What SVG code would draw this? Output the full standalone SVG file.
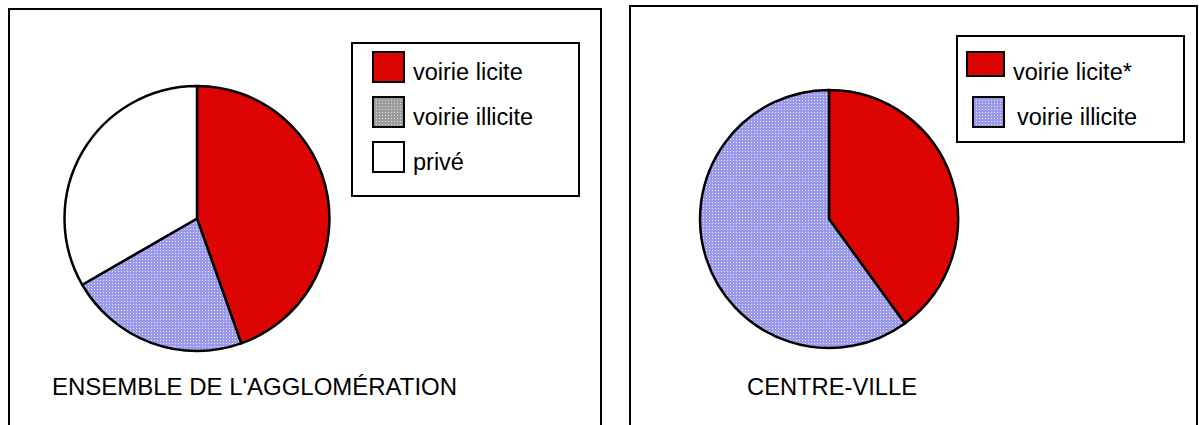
<svg xmlns="http://www.w3.org/2000/svg" width="1199" height="425" viewBox="0 0 1199 425">
<defs>
<pattern id="blueDots" width="3" height="3" patternUnits="userSpaceOnUse">
<rect width="3" height="3" fill="#9a9ae8"/>
<rect x="1" y="1" width="1" height="1" fill="#e4e4fb"/>
</pattern>
<pattern id="grayDots" width="3" height="3" patternUnits="userSpaceOnUse">
<rect width="3" height="3" fill="#9c9c9c"/>
<rect x="1" y="1" width="1" height="1" fill="#dcdcdc"/>
</pattern>
<style>
.frame{fill:none;stroke:#000;stroke-width:2}
.leg{fill:#fff;stroke:#000;stroke-width:2}
.sw{stroke:#000;stroke-width:2}
.slice{stroke:#000;stroke-width:2.5;stroke-linejoin:round}
.red{fill:#dd0404}
.blue{fill:url(#blueDots)}
.white{fill:#fff}
.gray{fill:url(#grayDots)}
.lt{font-family:"Liberation Sans",Arial,sans-serif;font-size:23.5px;fill:#000}
.cap{font-family:"Liberation Sans",Arial,sans-serif;font-size:24px;fill:#000}
</style>
</defs>
<rect width="1199" height="425" fill="#fff"/>

<g id="panel-left">
<path class="frame" d="M9,430 V9 H601 V430"/>
<g id="pie-left">
<path class="slice red" d="M197,218.5 L197,86 A132.5,132.5 0 0 1 241.2,343.4 Z"/>
<path class="slice blue" d="M197,218.5 L241.2,343.4 A132.5,132.5 0 0 1 82.25,284.75 Z"/>
<path class="slice white" d="M197,218.5 L82.25,284.75 A132.5,132.5 0 0 1 197,86 Z"/>
</g>
<g id="legend-left">
<rect class="leg" x="352" y="43" width="227" height="153"/>
<rect class="sw red" x="373" y="52" width="31" height="30"/>
<text class="lt" x="413" y="80">voirie licite</text>
<rect class="sw gray" x="373" y="97" width="31" height="30"/>
<text class="lt" x="413" y="125">voirie illicite</text>
<rect class="sw white" x="373" y="142" width="31" height="30"/>
<text class="lt" x="413" y="170">privé</text>
</g>
<text id="caption-left" class="cap" x="52" y="395" textLength="405" lengthAdjust="spacingAndGlyphs">ENSEMBLE DE L'AGGLOMÉRATION</text>
</g>

<g id="panel-right">
<path class="frame" d="M630,430 V6 H1197 V430"/>
<g id="pie-right">
<path class="slice red" d="M829,219 L829,90 A129,129 0 0 1 904.8,323.4 Z"/>
<path class="slice blue" d="M829,219 L904.8,323.4 A129,129 0 1 1 829,90 Z"/>
</g>
<g id="legend-right">
<rect class="leg" x="957" y="36" width="227" height="106"/>
<rect class="sw red" x="967" y="52" width="37" height="24"/>
<text class="lt" x="1013" y="80">voirie licite*</text>
<rect class="sw blue" x="973" y="97" width="31" height="30"/>
<text class="lt" x="1017" y="125">voirie illicite</text>
</g>
<text id="caption-right" class="cap" x="747" y="395" textLength="170" lengthAdjust="spacingAndGlyphs">CENTRE-VILLE</text>
</g>

<g id="connectors"/>
</svg>
